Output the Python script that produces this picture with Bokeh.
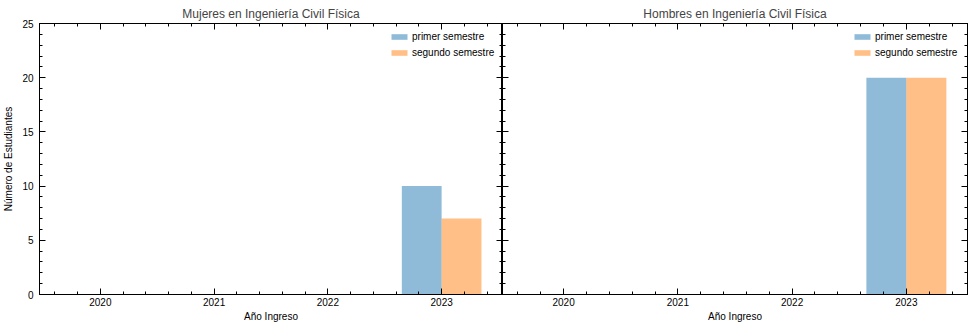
import numpy as np
from bokeh.plotting import figure
from bokeh.models import (LinearAxis, FixedTicker, Range1d, Legend, LegendItem,
                          ColumnDataSource, CustomLabelingPolicy)
from bokeh.layouts import row
from bokeh.embed import file_html
from bokeh.resources import INLINE

years = [2020, 2021, 2022, 2023]
mujeres_primer = [0, 0, 0, 10]
mujeres_segundo = [0, 0, 0, 7]
hombres_primer = [0, 0, 0, 20]
hombres_segundo = [0, 0, 0, 20]
y_major = [0, 5, 10, 15, 20, 25]

FONT = "Liberation Sans"
BLUE = "#1f77b4"
ORANGE = "#ff7f0e"
BAR_W = 0.35

x_minor = [v for v in np.round(np.arange(years[0] - 1, years[-1] + 1.01, 0.2), 2) if v not in years]
y_minor = list(range(0, 26))

HIDE_JS = "for (let i = 0; i < indices.size; i++) { indices.unset(i) } return indices"


def style_axis(ax, labels=True):
    ax.axis_line_color = "black"
    ax.axis_line_width = 1
    ax.major_tick_line_color = "black"
    ax.minor_tick_line_color = "black"
    ax.major_tick_in = 6
    ax.major_tick_out = 0
    ax.minor_tick_in = 3
    ax.minor_tick_out = 0
    ax.major_label_text_font = FONT
    ax.major_label_text_color = "black"
    ax.axis_label_text_font = FONT
    ax.axis_label_text_font_style = "normal"
    ax.axis_label_text_color = "black"
    ax.axis_label_text_font_size = "10px"
    if labels:
        ax.major_label_text_font_size = "10px"
    else:
        ax.major_label_text_font_size = "0px"
        ax.major_label_standoff = 0
        ax.major_label_policy = CustomLabelingPolicy(code=HIDE_JS)


def make(title, primer, segundo, first):
    p = figure(
        width=502 if first else 471,
        height=328,
        x_range=Range1d(2019.465, 2023.535),
        y_range=Range1d(0, 25),
        output_backend="svg",
        toolbar_location=None,
        min_border_left=38 if first else 0,
        min_border_right=0 if first else 6,
        min_border_top=23,
        min_border_bottom=34,
        title=title,
    )
    p.title.text_font = FONT
    p.title.text_font_size = "12px"
    p.title.text_font_style = "normal"
    p.title.align = "center"
    p.title.standoff = 6
    p.grid.visible = False
    p.outline_line_color = "black"
    p.background_fill_color = "white"
    p.border_fill_color = "white"

    src = ColumnDataSource(dict(
        x1=[y - BAR_W / 2 for y in years],
        x2=[y + BAR_W / 2 for y in years],
        primer=primer,
        segundo=segundo,
    ))
    r1 = p.vbar(x="x1", top="primer", width=BAR_W, source=src,
                fill_color=BLUE, fill_alpha=0.5, line_color=None)
    r2 = p.vbar(x="x2", top="segundo", width=BAR_W, source=src,
                fill_color=ORANGE, fill_alpha=0.5, line_color=None)

    xt = FixedTicker(ticks=years, minor_ticks=x_minor)
    yt = FixedTicker(ticks=y_major, minor_ticks=y_minor)

    xa = p.xaxis[0]
    xa.ticker = xt
    xa.axis_label = "Año Ingreso"
    style_axis(xa)
    xa.major_label_standoff = 3
    xa.axis_label_standoff = 2

    ya = p.yaxis[0]
    ya.ticker = yt
    if first:
        ya.axis_label = "Número de Estudiantes"
        style_axis(ya)
        ya.major_label_standoff = 6
        ya.axis_label_standoff = 5
    else:
        style_axis(ya, labels=False)

    top = LinearAxis(ticker=FixedTicker(ticks=years, minor_ticks=x_minor))
    style_axis(top, labels=False)
    p.add_layout(top, "above")
    right = LinearAxis(ticker=FixedTicker(ticks=y_major, minor_ticks=y_minor))
    style_axis(right, labels=False)
    p.add_layout(right, "right")

    legend = Legend(items=[
        LegendItem(label="primer semestre", renderers=[r1]),
        LegendItem(label="segundo semestre", renderers=[r2]),
    ])
    legend.location = (350, 235)
    legend.label_text_font = FONT
    legend.label_text_font_size = "10px"
    legend.label_text_color = "black"
    legend.glyph_width = 20
    legend.glyph_height = 7
    legend.label_height = 14
    legend.label_standoff = 3
    legend.spacing = 2
    legend.padding = 0
    legend.margin = 0
    legend.border_line_color = None
    legend.background_fill_alpha = 0
    p.add_layout(legend, "center")
    return p


p1 = make("Mujeres en Ingeniería Civil Física", mujeres_primer, mujeres_segundo, True)
p2 = make("Hombres en Ingeniería Civil Física", hombres_primer, hombres_segundo, False)

layout = row(p1, p2, spacing=0)
open("out.html", "w").write(file_html(layout, INLINE))
